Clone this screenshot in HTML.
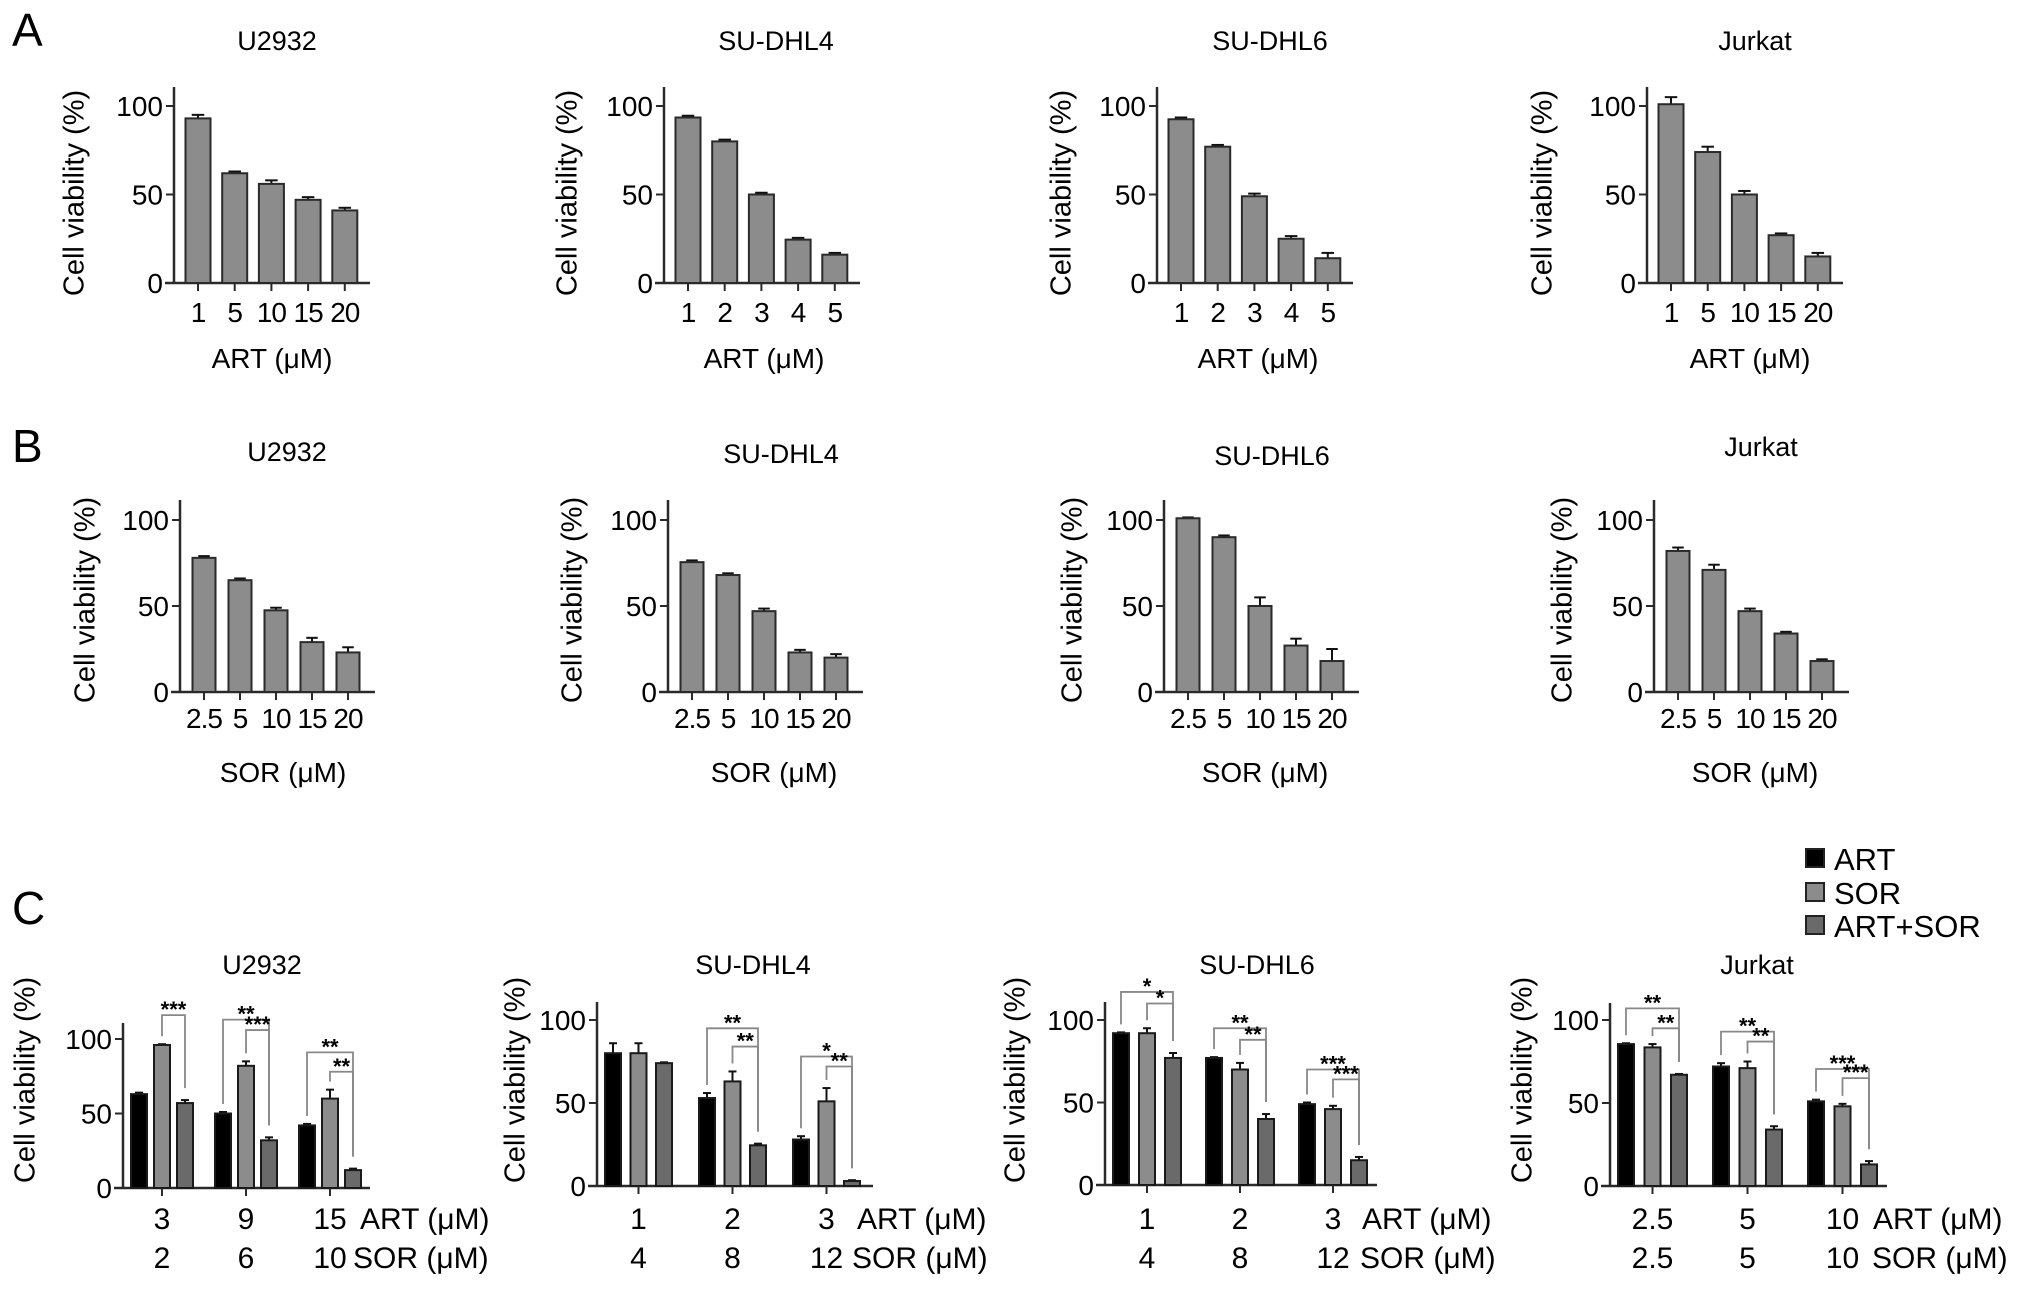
<!DOCTYPE html>
<html><head><meta charset="utf-8"><style>
html,body{margin:0;padding:0;background:#fff;}
svg{display:block;font-family:"Liberation Sans",Arial,sans-serif;}
</style></head><body>
<svg id="fig" width="2032" height="1289" viewBox="0 0 2032 1289" xmlns="http://www.w3.org/2000/svg">
<text x="12" y="46" font-size="46">A</text>
<text x="12" y="462" font-size="46">B</text>
<text x="12" y="924" font-size="46">C</text>
<g>
<rect x="1806" y="849" width="18" height="18" fill="#000" stroke="#222" stroke-width="2"/>
<text x="1834" y="870" font-size="31">ART</text>
<rect x="1806" y="883" width="18" height="18" fill="#8c8c8c" stroke="#222" stroke-width="2"/>
<text x="1834" y="904" font-size="31">SOR</text>
<rect x="1806" y="916" width="18" height="18" fill="#6a6a6a" stroke="#222" stroke-width="2"/>
<text x="1834" y="937" font-size="31">ART+SOR</text>
</g>
</svg>
<script>
// ---------- data ----------
const cellLines = ["U2932","SU-DHL4","SU-DHL6","Jurkat"];
// Panel A (ART)
const aCategories = [["1","5","10","15","20"],["1","2","3","4","5"],["1","2","3","4","5"],["1","5","10","15","20"]];
const aValues = [[93,62,56,47,41],[93.5,80,50,24.5,16],[92.5,77,49,25,14],[101,74,50,27,15]];
const aErrors = [[2,1,2,1.5,1.5],[1,1,1,1,1],[1,1,1.5,1.5,3],[4,3,2,1,2]];
// Panel B (SOR)
const bCategories = ["2.5","5","10","15","20"];
const bValues = [[78,65,47.5,29,23],[75.5,68,47,23,20],[101,90,50,27,18],[82,71,47,34,18]];
const bErrors = [[1,1,1.5,2.5,3],[1,1,1.5,1.5,2],[0.5,1,5,4,7],[2,3,1.5,1,1]];
// Panel C (combination)
const cArtDoses = [["3","9","15"],["1","2","3"],["1","2","3"],["2.5","5","10"]];
const cSorDoses = [["2","6","10"],["4","8","12"],["4","8","12"],["2.5","5","10"]];
const cArt = [[63,50,42],[80,53,28],[92,77,49],[85.5,72,51]];
const cSor = [[96,82,60],[80,63,51],[92,70,46],[83.5,71,48]];
const cCombo = [[57,32,12],[74,24.5,3],[77,40,15],[67,34,13]];
const cArtErr = [[1,1,1],[6,3,2],[0.5,0.5,1],[0.5,2,1]];
const cSorErr = [[0.5,3,6],[6,6,8],[3,4,2],[2,4,1.5]];
const cComboErr = [[2,2,1],[0.5,1,0.5],[3,3,2],[0.5,2,2]];
// brackets: [panel, group, fromBar(0=ART,1=SOR), level (%), label]
const cBrackets = [
 [0,0,1,116,"***"],
 [0,1,0,113,"**"],[0,1,1,106,"***"],
 [0,2,0,91,"**"],[0,2,1,78,"**"],
 [1,1,0,95,"**"],[1,1,1,84,"**"],
 [1,2,0,78,"*"],[1,2,1,72,"**"],
 [2,0,0,117,"*"],[2,0,1,110,"*"],
 [2,1,0,95,"**"],[2,1,1,88,"**"],
 [2,2,0,70,"***"],[2,2,1,64,"***"],
 [3,0,0,107,"**"],[3,0,1,95,"**"],
 [3,1,0,93,"**"],[3,1,1,87,"**"],
 [3,2,0,70.5,"***"],[3,2,1,65,"***"]
];
// ---------- drawing ----------
const NS="http://www.w3.org/2000/svg";
const svg=document.getElementById("fig");
function mk(tag,attrs,parent,txt){const e=document.createElementNS(NS,tag);for(const k in attrs)e.setAttribute(k,attrs[k]);if(txt!==undefined)e.textContent=txt;(parent||svg).appendChild(e);return e;}
const AX="#2a2a2a";

function yAxis(g,ax,y0,y100,top,fs,name){
  const ys=v=>y0-(y0-y100)*v/100;
  mk("line",{x1:ax,y1:top,x2:ax,y2:y0,stroke:AX,"stroke-width":2.5},g);
  [0,50,100].forEach(v=>{
    const y=ys(v);
    mk("line",{x1:ax-8,y1:y,x2:ax,y2:y,stroke:AX,"stroke-width":2},g);
    const t=mk("text",{x:ax-11,y:y+fs*0.36,"font-size":fs,"text-anchor":"end"},g,String(v));
    
    
  });
  return ys;
}
function ylabel(g,x,cy,name){
  const t=mk("text",{x:x,y:cy,"font-size":29,"text-anchor":"middle",transform:`rotate(-90 ${x} ${cy})`,"dominant-baseline":"middle"},g,"Cell viability (%)");
  
  
}
function errBar(g,cx,yTop,yErr,w){
  mk("line",{x1:cx,y1:yTop,x2:cx,y2:yErr,stroke:"#111","stroke-width":2},g);
  mk("line",{x1:cx-w/2,y1:yErr,x2:cx+w/2,y2:yErr,stroke:"#111","stroke-width":2},g);
}

function simplePanel(row,i,cfg,cats,vals,errs,xlab){
  const name=`panel-${row}-${cellLines[i].toLowerCase()}`;
  const g=mk("g",{});
  
  
  const ax=cfg.axes[i];
  const ys=yAxis(g,ax,cfg.y0,cfg.y100,cfg.top,28,name);
  mk("line",{x1:ax-9,y1:cfg.y0,x2:ax+cfg.len,y2:cfg.y0,stroke:AX,"stroke-width":2.5},g);
  const t=mk("text",{x:cfg.titleX[i],y:cfg.titleY[i]+10,"font-size":27,"text-anchor":"middle"},g,cellLines[i]);
  
  
  ylabel(g,cfg.ylx[i],cfg.ylcy,name);
  vals.forEach((v,k)=>{
    const cx=ax+cfg.off+k*cfg.step;
    const yT=ys(v);
    errBar(g,cx,yT,ys(v+errs[k]),cfg.bw*0.5);
    const r=mk("rect",{x:cx-cfg.bw/2,y:yT,width:cfg.bw,height:cfg.y0-yT,fill:"#8c8c8c",stroke:"#2a2a2a","stroke-width":2},g);
    
    
    mk("line",{x1:cx,y1:cfg.y0,x2:cx,y2:cfg.y0+8,stroke:AX,"stroke-width":2},g);
    const tl=mk("text",{x:cx,y:cfg.tickY+10,"font-size":28,"text-anchor":"middle","letter-spacing":"-1"},g,cats[k]);
    
    
  });
  const xl=mk("text",{x:cfg.xlX[i],y:cfg.xlY+10,"font-size":28,"text-anchor":"middle"},g,xlab+" (\u03BCM)");
  
  
}

const cfgA={axes:[174,664,1157,1647],y0:283,y100:106,top:87,len:196,off:24,step:36.7,bw:25,
  titleX:[277,776,1270,1755],titleY:[40,40,40,40],ylx:[76,569,1063,1544],ylcy:193,tickY:312,xlY:358,xlX:[272,764,1258,1750]};
const cfgB={axes:[180,668,1164,1654],y0:692,y100:520,top:500,len:195,off:24,step:36,bw:23,
  titleX:[287,781,1272,1761],titleY:[451,453,455,446],ylx:[87,574,1074,1564],ylcy:600,tickY:718,xlY:772,xlX:[283,774,1265,1755]};
for(let i=0;i<4;i++){
  simplePanel("a",i,cfgA,aCategories[i],aValues[i],aErrors[i],"ART");
  simplePanel("b",i,cfgB,bCategories,bValues[i],bErrors[i],"SOR");
}

// Panel C
const cfgC={axes:[123,597,1105,1610],y0:[1188,1186,1185,1186],y100:[1039,1020,1020,1020],top:[1023,1002,1002,1003],
  gstep:[84,94,93,95],pitch:[23,25.5,26,26.5],off:16,bw:16,xEnd:[370,873,1377,1887],
  titleX:[262,753,1257,1757],ylx:[27,517,1017,1524],artX:[360,857,1362,1873],sorX:[353,852,1360,1872]};
const fills=["#000","#8c8c8c","#6a6a6a"];
const seriesNames=["art","sor","art-sor"];
const cPanels=[];
for(let i=0;i<4;i++){
  const name=`panel-c-${cellLines[i].toLowerCase()}`;
  const g=mk("g",{});
  
  
  const ax=cfgC.axes[i], y0=cfgC.y0[i];
  const ys=yAxis(g,ax,y0,cfgC.y100[i],cfgC.top[i],28,name);
  mk("line",{x1:ax-9,y1:y0,x2:cfgC.xEnd[i],y2:y0,stroke:AX,"stroke-width":2.5},g);
  const t=mk("text",{x:cfgC.titleX[i],y:974,"font-size":27,"text-anchor":"middle"},g,cellLines[i]);
  
  
  ylabel(g,cfgC.ylx[i],1080,name);
  const series=[cArt[i],cSor[i],cCombo[i]], errs=[cArtErr[i],cSorErr[i],cComboErr[i]];
  const barX=(gi,s)=>ax+cfgC.off+gi*cfgC.gstep[i]+s*cfgC.pitch[i];
  for(let gi=0;gi<3;gi++){
    for(let s=0;s<3;s++){
      const v=series[s][gi], cx=barX(gi,s), yT=ys(v);
      errBar(g,cx,yT,ys(v+errs[s][gi]),8);
      const r=mk("rect",{x:cx-cfgC.bw/2,y:yT,width:cfgC.bw,height:y0-yT,fill:fills[s],stroke:"#1a1a1a","stroke-width":2},g);
      
      
    }
    const tx=barX(gi,1);
    mk("line",{x1:tx,y1:y0,x2:tx,y2:y0+8,stroke:AX,"stroke-width":2},g);
    const a=mk("text",{x:tx,y:1229,"font-size":30,"text-anchor":"middle"},g,cArtDoses[i][gi]);
    
    
    const so=mk("text",{x:tx,y:1268,"font-size":30,"text-anchor":"middle"},g,cSorDoses[i][gi]);
    
    
  }
  const al=mk("text",{x:cfgC.artX[i],y:1229,"font-size":30},g,"ART (\u03BCM)");
  
  
  const sl=mk("text",{x:cfgC.sorX[i],y:1268,"font-size":30},g,"SOR (\u03BCM)");
  
  
  cPanels.push({g,ys,barX,series,errs,name});
}
cBrackets.forEach(([p,gi,from,level,label])=>{
  const P=cPanels[p];
  const x1=P.barX(gi,from), x2=P.barX(gi,2), y=P.ys(level);
  const leg1=P.ys(P.series[from][gi]+P.errs[from][gi])-8;
  const leg2=P.ys(P.series[2][gi]+P.errs[2][gi])-12;
  const pl=mk("polyline",{points:`${x1},${leg1} ${x1},${y} ${x2},${y} ${x2},${leg2}`,fill:"none",stroke:"#888","stroke-width":1.8},P.g);
  
  
  const t=mk("text",{x:(x1+x2)/2,y:y+2,"font-size":22,"text-anchor":"middle","font-weight":"bold"},P.g,label);
  
  
});
</script>
</body></html>
